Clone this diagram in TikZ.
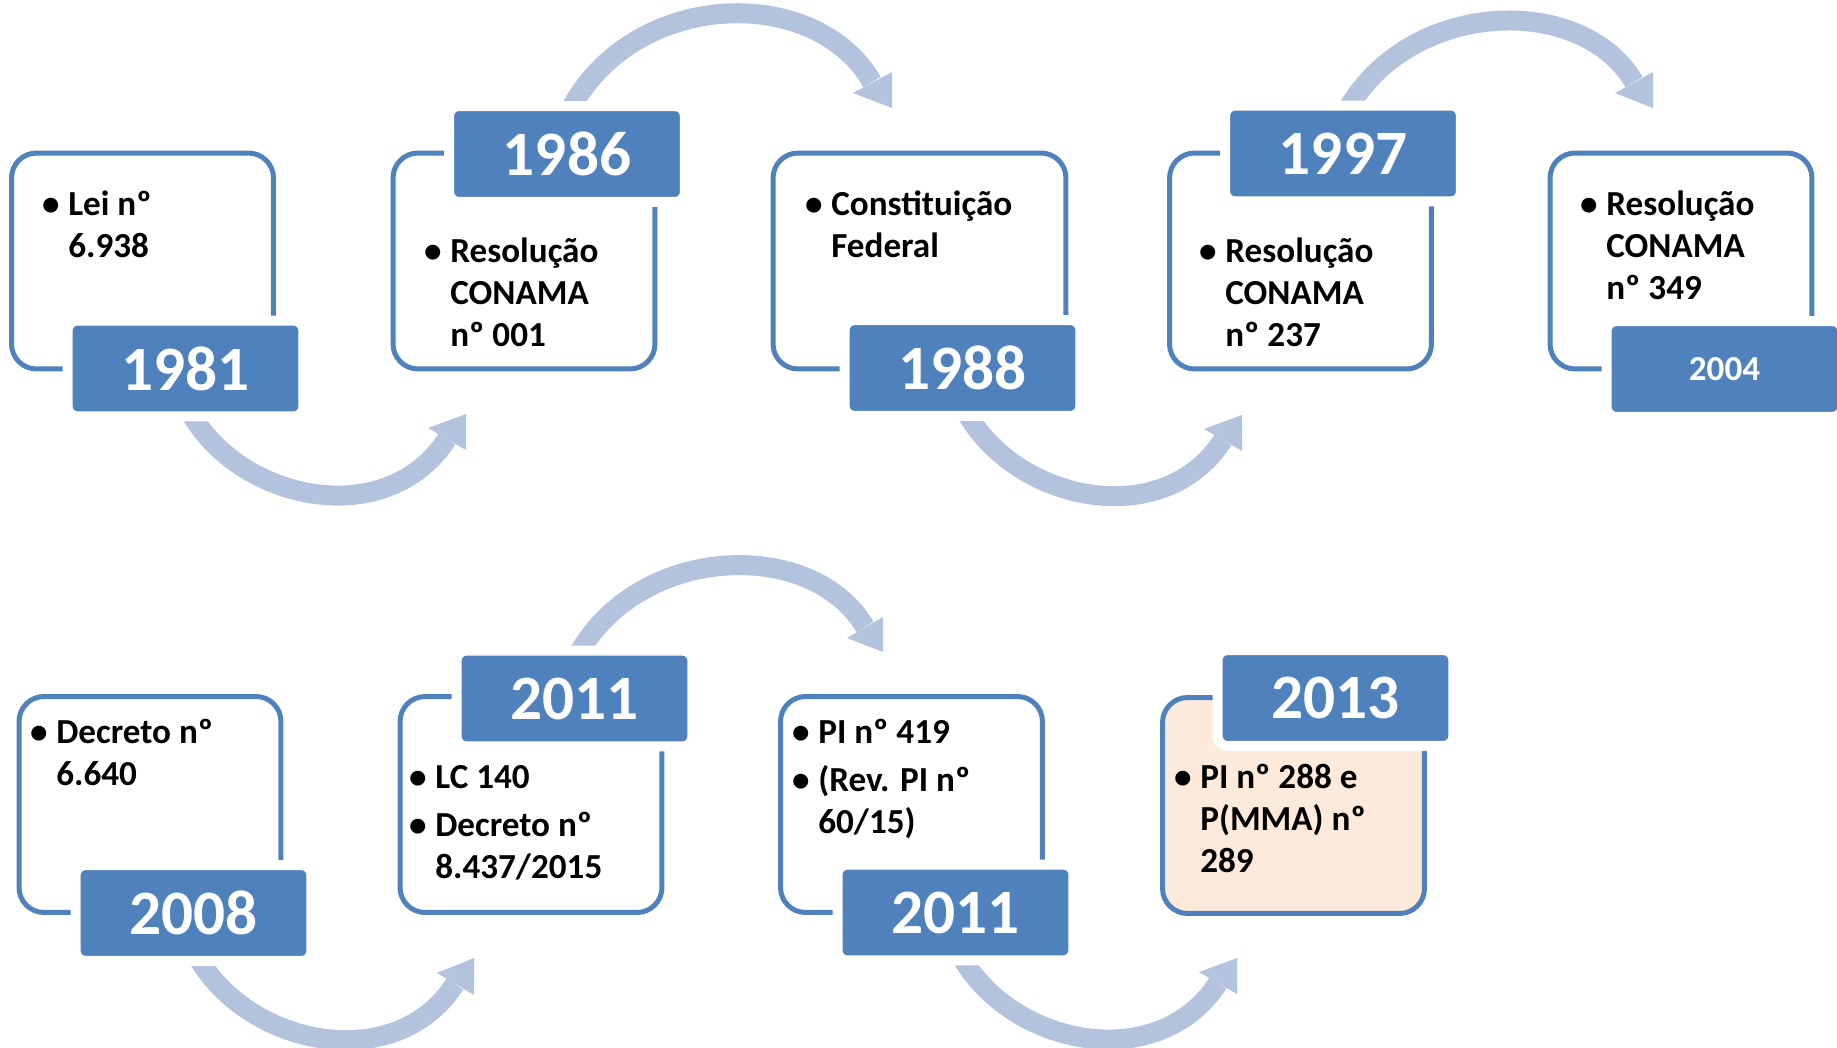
\documentclass[tikz,border=0pt]{standalone}
\usepackage{fontspec}
\setmainfont{Carlito}
\definecolor{boxblue}{HTML}{4F81BD}
\definecolor{flowblue}{HTML}{B3C3DE}
\definecolor{peach}{HTML}{FDEADA}
\newcommand{\bul}{\strut\llap{\textbullet\hspace{5pt}}}
\begin{document}
\begin{tikzpicture}[x=0.02cm,y=-0.02cm,
  entry/.style={draw=boxblue,line width=0.1cm,fill=white,rounded corners=0.5cm,
    minimum width=5.24cm,minimum height=4.32cm,inner sep=0},
  year/.style={fill=boxblue,draw=white,line width=0.2cm,rounded corners=0.2cm,
    minimum width=4.72cm,minimum height=1.92cm,inner sep=0,text=white,
    font=\fontsize{36}{36}\selectfont\bfseries},
  info/.style={anchor=north west,align=left,inner sep=0,
    font=\fontsize{20}{24}\selectfont\bfseries},
  flow/.style={draw=flowblue,line width=0.4cm},
  flowhead/.style={fill=flowblue}]
  \useasboundingbox (0,0) rectangle (1837,1048);

  %%%%%%%%%%%%%The arrows%%%%%%%%%%%%%%%%%%%%%%
  \coordinate (s1) at (184,400);  \coordinate (e1) at (447,439);
  \coordinate (s2) at (565,120);  \coordinate (e2) at (872,82);
  \coordinate (s3) at (960,400);  \coordinate (e3) at (1223,440);
  \coordinate (s4) at (1342,120); \coordinate (e4) at (1634,82);
  \coordinate (s5) at (191,944);  \coordinate (e5) at (455,984);
  \coordinate (s6) at (573,664);  \coordinate (e6) at (865,627);
  \coordinate (s7) at (955,944);  \coordinate (e7) at (1218,983);

  \draw[flow] (s1) .. controls +(44,100) and +(-62,96) .. (e1);
  \fill[flowhead] (e1) ++(-19,-11) -- ++(38,-14) -- ++(0,36) -- cycle;
  \draw[flow] (s2) .. controls +(60,-132) and +(-57,-100) .. (e2);
  \fill[flowhead] (e2) ++(-19,11) -- ++(39,-21) -- ++(0,36) -- cycle;
  \draw[flow] (s3) .. controls +(44,100) and +(-62,96) .. (e3);
  \fill[flowhead] (e3) ++(-19,-11) -- ++(38,-14) -- ++(0,36) -- cycle;
  \draw[flow] (s4) .. controls +(57,-120) and +(-54,-92) .. (e4);
  \fill[flowhead] (e4) ++(-19,11) -- ++(38,-21) -- ++(0,36) -- cycle;
  \draw[flow] (s5) .. controls +(44,100) and +(-62,96) .. (e5);
  \fill[flowhead] (e5) ++(-18,-11) -- ++(37,-15) -- ++(0,37) -- cycle;
  \draw[flow] (s6) .. controls +(57,-120) and +(-54,-92) .. (e6);
  \fill[flowhead] (e6) ++(-18,11) -- ++(36,-21) -- ++(0,35) -- cycle;
  \draw[flow] (s7) .. controls +(44,100) and +(-62,96) .. (e7);
  \fill[flowhead] (e7) ++(-19,-11) -- ++(38,-14) -- ++(0,36) -- cycle;

  %%%%%%%%%%%%%The first row%%%%%%%%%%%%%%%%%%%%%%
  \node[entry] (b1981) at (142.5,261) {};
  \node[entry] (b1986) at (524,261) {};
  \node[entry,minimum width=5.86cm] (b1988) at (919.5,261) {};
  \node[entry] (b1997) at (1300.5,261) {};
  \node[entry] (b2004) at (1681,261) {};

  \node[info] (t1981) at (68,185.4) {\bul Lei nº\\6.938};
  \node[info] (t1986) at (450,232.4) {\bul Resolução\\CONAMA\\nº 001};
  \node[info] (t1988) at (831,185.4) {\bul Constituição\\Federal};
  \node[info] (t1997) at (1225,232.4) {\bul Resolução\\CONAMA\\nº 237};
  \node[info] (t2004) at (1606,185.4) {\bul Resolução\\CONAMA\\nº 349};

  \node[year] (y1981) at (185.5,368.5) {1981};
  \node[year] (y1986) at (567,154) {1986};
  \node[year] (y1988) at (962.5,368) {1988};
  \node[year] (y1997) at (1343,153.5) {1997};
  \node[year,font=\fontsize{20}{20}\selectfont\bfseries] (y2004) at (1724.5,369) {2004};

  %%%%%%%%%%%%%The second row%%%%%%%%%%%%%%%%%%%%%%
  \node[entry] (b2008) at (150,804.5) {};
  \node[entry] (b2011a) at (531,804.5) {};
  \node[entry] (b2011b) at (911.5,804.5) {};
  \node[entry,fill=peach] (b2013) at (1293.5,805.5) {};

  \node[info] (t2008) at (56,713.4) {\bul Decreto nº\\6.640};
  \node[info] (t2011a) at (435,758.4) {\bul LC 140\\[3.5pt]\bul Decreto nº\\8.437/2015};
  \node[info] (t2011b) at (818,713.4) {\bul PI nº 419\\[3.5pt]\bul (Rev. PI nº\\60/15)};
  \node[info] (t2013) at (1200,758.4) {\bul PI nº 288 e\\P(MMA) nº\\289};

  \node[year] (y2008) at (193.5,913) {2008};
  \node[year] (y2011a) at (574.5,698.5) {2011};
  \node[year] (y2011b) at (955.5,912.5) {2011};
  \node[year] (y2013) at (1335.5,698) {2013};
\end{tikzpicture}
\end{document}
